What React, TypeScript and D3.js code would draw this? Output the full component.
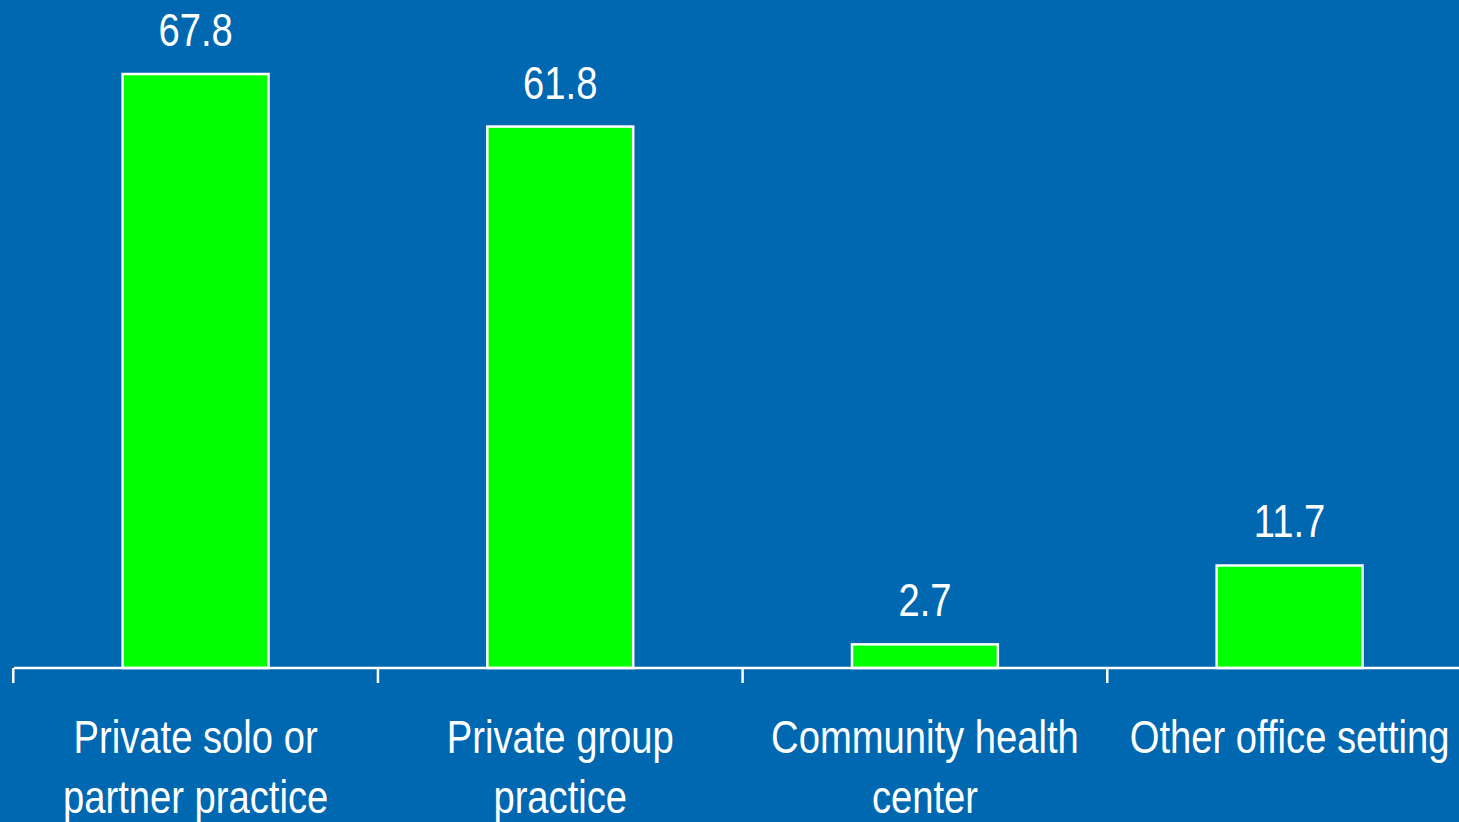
import React from "react";
import * as d3 from "d3";

const categories: string[][] = [
  ["Private solo or", "partner practice"],
  ["Private group", "practice"],
  ["Community health", "center"],
  ["Other office setting"],
];
const values: number[] = [67.8, 61.8, 2.7, 11.7];
const valueLabels: string[] = ["67.8", "61.8", "2.7", "11.7"];

const W = 1459;
const H = 822;
const BG = "#0067B1";
const FONT = "'Liberation Sans', Arial, sans-serif";
const SX = 0.83;

export default function App() {
  const axisY = 668;
  const x = d3
    .scaleBand<number>()
    .domain(values.map((_, i) => i))
    .range([14, 1471.2])
    .paddingInner(0.6)
    .paddingOuter(0.298);
  const y = d3.scaleLinear().domain([0, 67.8]).range([axisY, 74]);
  const step = x.step();
  const tickXs = values.map((_, i) => (x(i) as number) - (x.paddingInner() * step) / 2);
  const cx = (i: number) => (x(i) as number) + x.bandwidth() / 2;

  return (
    <svg
      width={W}
      height={H}
      style={{ position: "absolute", left: 0, top: 0, display: "block" }}
    >
      <rect x={0} y={0} width={W} height={H} fill={BG} />
      {values.map((v, i) => (
        <rect
          key={i}
          x={x(i)}
          y={y(v)}
          width={x.bandwidth()}
          height={axisY - y(v)}
          fill="#00FF00"
          stroke="#FFFFFF"
          strokeWidth={2.5}
        />
      ))}
      <line x1={14} x2={W} y1={axisY} y2={axisY} stroke="#FFFFFF" strokeWidth={2.5} />
      {tickXs.map((tx, i) => (
        <line key={i} x1={tx} x2={tx} y1={axisY} y2={axisY + 15} stroke="#FFFFFF" strokeWidth={2.5} />
      ))}
      {values.map((v, i) => (
        <text
          key={i}
          transform={`translate(${cx(i)},${y(v) - 28}) scale(${SX},1)`}
          fill="#FFFFFF"
          fontFamily={FONT}
          fontSize={46}
          textAnchor="middle"
        >
          {valueLabels[i]}
        </text>
      ))}
      {categories.map((lines, i) => (
        <text
          key={i}
          transform={`translate(${cx(i)},0) scale(${SX},1)`}
          fill="#FFFFFF"
          fontFamily={FONT}
          fontSize={46}
          textAnchor="middle"
        >
          {lines.map((l, j) => (
            <tspan key={j} x={0} y={753 + j * 60}>
              {l}
            </tspan>
          ))}
        </text>
      ))}
    </svg>
  );
}
